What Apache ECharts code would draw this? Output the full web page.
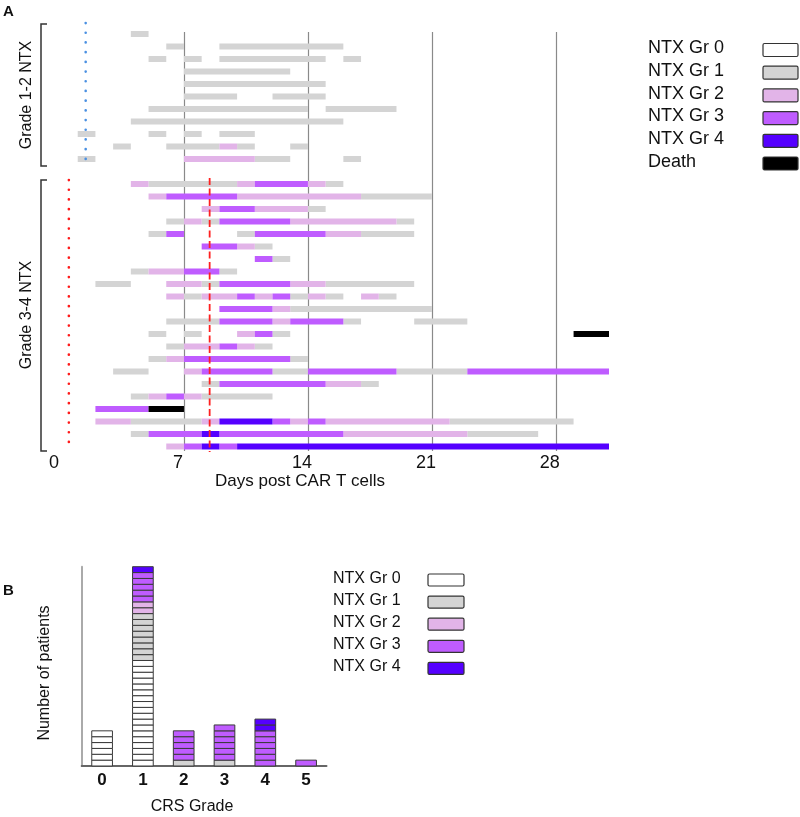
<!DOCTYPE html>
<html><head><meta charset="utf-8">
<script src="https://cdn.jsdelivr.net/npm/echarts@6/dist/echarts.min.js"></script>
<style>html,body{margin:0;padding:0;background:#fff}#c{width:800px;height:817px}</style>
</head><body><div id="c"></div>
<script>
// ---------- Panel A data ----------
const dayTicks = [0, 7, 14, 21, 28];
const gradeNames = ['NTX Gr 0', 'NTX Gr 1', 'NTX Gr 2', 'NTX Gr 3', 'NTX Gr 4', 'Death'];
// each row: list of [startDay, endDay, grade] (grade 5 = death)
const grade12Rows = [
  [[4,5,1]],
  [[6,7,1],[9,16,1]],
  [[5,6,1],[7,8,1],[9,15,1],[16,17,1]],
  [[7,13,1]],
  [[7,15,1]],
  [[7,10,1],[12,15,1]],
  [[5,14,1],[15,19,1]],
  [[4,16,1]],
  [[1,2,1],[5,6,1],[7,8,1],[9,11,1]],
  [[3,4,1],[6,9,1],[9,10,2],[10,11,1],[13,14,1]],
  [[1,2,1],[7,11,2],[11,13,1],[16,17,1]]
];
const grade34Rows = [
  [[4,5,2],[5,10,1],[10,11,2],[11,14,3],[14,15,2],[15,16,1]],
  [[5,6,2],[6,10,3],[10,17,2],[17,21,1]],
  [[8,9,2],[9,11,3],[11,14,2],[14,15,1]],
  [[6,7,1],[7,8,2],[8,9,1],[9,13,3],[13,19,2],[19,20,1]],
  [[5,6,1],[6,7,3],[10,11,1],[11,15,3],[15,17,2],[17,20,1]],
  [[8,10,3],[10,11,2],[11,12,1]],
  [[11,12,3],[12,13,1]],
  [[4,5,1],[5,7,2],[7,9,3],[9,10,1]],
  [[2,4,1],[6,8,2],[8,9,1],[9,13,3],[13,15,2],[15,20,1]],
  [[6,7,2],[7,8,1],[8,10,2],[10,11,3],[11,12,2],[12,13,3],[13,14,1],[14,15,2],[15,16,1],[17,18,2],[18,19,1]],
  [[9,12,3],[12,13,2],[13,21,1]],
  [[6,9,1],[9,12,3],[12,13,2],[13,16,3],[16,17,1],[20,23,1]],
  [[5,6,1],[7,8,1],[10,11,2],[11,12,3],[12,13,1],[29,31,5]],
  [[6,7,1],[7,9,2],[9,10,3],[10,11,2],[11,12,1]],
  [[5,6,1],[6,7,2],[7,13,3],[13,14,1]],
  [[3,5,1],[7,8,2],[8,12,3],[12,14,1],[14,19,3],[19,23,1],[23,31,3]],
  [[8,9,1],[9,15,3],[15,17,2],[17,18,1]],
  [[4,5,1],[5,6,2],[6,7,3],[7,8,2],[8,12,1]],
  [[2,5,3],[5,7,5]],
  [[2,4,2],[4,8,1],[8,9,2],[9,12,4],[12,13,3],[13,14,2],[14,15,3],[15,22,2],[22,29,1]],
  [[4,5,1],[5,8,3],[8,9,4],[9,16,3],[16,23,2],[23,27,1]],
  [[6,7,2],[7,8,3],[8,9,4],[9,10,3],[10,31,4]]
];
// reference lines: [day, fromRow, toRow]
const blueDotLine = [1.45, -0.88, 10.64];
const redDotLine = [0.5, 11.68, 33.2];
const redDashLine = [8.45, 11.52, 33.44];

// ---------- Panel B data ----------
const crsGrades = ['0', '1', '2', '3', '4', '5'];
const crsNtx0 = [6, 18, 0, 0, 0, 0];
const crsNtx1 = [0, 8, 1, 1, 0, 0];
const crsNtx2 = [0, 2, 0, 0, 0, 0];
const crsNtx3 = [0, 5, 5, 6, 6, 1];
const crsNtx4 = [0, 1, 0, 0, 2, 0];

// ---------- styles ----------
const FONT = '"Liberation Sans", Arial, sans-serif';
const gradeColors = ['#ffffff', '#d4d4d4', '#e2b4e8', '#bf5cff', '#5500ff', '#000000'];
const ROW_GAP = 12; // grade 3-4 rows start after one empty row

const segData = gradeNames.map(() => []);
grade12Rows.forEach((row, i) => row.forEach(s => segData[s[2]].push([i, s[0], s[1]])));
grade34Rows.forEach((row, i) => row.forEach(s => segData[s[2]].push([ROW_GAP + i, s[0], s[1]])));

function segRender(color) {
  return function (params, api) {
    const y = api.value(0), s = api.value(1), e = api.value(2);
    const p0 = api.coord([s, y]), p1 = api.coord([e, y]);
    const h = 6;
    return { type: 'rect', shape: { x: p0[0], y: p0[1] - h / 2, width: p1[0] - p0[0], height: h }, style: { fill: color } };
  };
}
function vlineRender(color, dash, width) {
  return function (params, api) {
    const d = api.value(0);
    const a = api.coord([d, api.value(1)]), b = api.coord([d, api.value(2)]);
    return { type: 'line', shape: { x1: a[0], y1: a[1], x2: b[0], y2: b[1] },
      style: { stroke: color, lineWidth: width, lineDash: dash, lineCap: dash[0] < 3 ? 'round' : 'butt' } };
  };
}

const series = [];
segData.forEach((d, g) => {
  if (!d.length) return;
  series.push({ type: 'custom', name: gradeNames[g], xAxisIndex: 0, yAxisIndex: 0,
    renderItem: segRender(gradeColors[g]), encode: { x: [1, 2], y: 0 }, data: d, z: 2 });
});
series.push({ type: 'custom', xAxisIndex: 0, yAxisIndex: 0, clip: false, z: 3,
  renderItem: vlineRender('#4a90e2', [0.1, 9.6], 2.6), encode: { x: 0, y: [1, 2] }, data: [blueDotLine] });
series.push({ type: 'custom', xAxisIndex: 0, yAxisIndex: 0, clip: false, z: 3,
  renderItem: vlineRender('#ff1a1a', [0.1, 9.6], 2.6), encode: { x: 0, y: [1, 2] }, data: [redDotLine] });
series.push({ type: 'custom', xAxisIndex: 0, yAxisIndex: 0, clip: false, z: 3,
  renderItem: vlineRender('#ff2020', [7, 3.5], 1.8), encode: { x: 0, y: [1, 2] }, data: [redDashLine] });

// panel B stacked patient boxes
const crsStacks = [crsNtx0, crsNtx1, crsNtx2, crsNtx3, crsNtx4];
const base = crsGrades.map(() => 0);
crsStacks.forEach((arr, g) => {
  const data = arr.map((n, i) => { const item = [i, base[i], n]; base[i] += n; return item; });
  series.push({ type: 'custom', name: gradeNames[g] + ' ', xAxisIndex: 1, yAxisIndex: 1, z: 2,
    encode: { x: 0, y: 1 }, data: data,
    renderItem: function (params, api) {
      const c = api.value(0), b0 = api.value(1), n = api.value(2);
      const w = api.size([1, 0])[0] * 0.507;
      const children = [];
      for (let k = 0; k < n; k++) {
        const p0 = api.coord([c, b0 + k]), p1 = api.coord([c, b0 + k + 1]);
        children.push({ type: 'rect', shape: { x: p0[0] - w / 2, y: p1[1], width: w, height: p0[1] - p1[1] },
          style: { fill: gradeColors[g], stroke: '#3a3a3a', lineWidth: 1 } });
      }
      return { type: 'group', children: children };
    } });
});

// legends drawn as graphics
const graphics = [];
function legendBlock(x, yStart, step, boxX, boxW, boxH, count, fontSize) {
  for (let g = 0; g < count; g++) {
    const yc = yStart + g * step;
    graphics.push({ type: 'text', left: x, top: yc - fontSize * 0.6,
      style: { text: gradeNames[g], font: fontSize + 'px ' + FONT, fill: '#111' } });
    graphics.push({ type: 'rect', shape: { x: boxX, y: yc - boxH / 2, width: boxW, height: boxH, r: 1.5 },
      style: { fill: gradeColors[g], stroke: '#333', lineWidth: 1.2 } });
  }
}
legendBlock(648, 50, 22.7, 763, 35, 13, 6, 18);
legendBlock(333, 580, 22.1, 428, 36, 12, 5, 16);

// brackets
function bracket(x, y0, y1) {
  graphics.push({ type: 'polyline', shape: { points: [[x + 6, y0], [x, y0], [x, y1], [x + 6, y1]] },
    style: { stroke: '#333', lineWidth: 1.5, fill: null } });
}
bracket(41, 24, 166);
bracket(41, 180, 451);
graphics.push({ type: 'text', x: 27, y: 95, rotation: Math.PI / 2,
  style: { text: 'Grade 1-2 NTX', font: '16px ' + FONT, fill: '#111', align: 'center', verticalAlign: 'middle' } });
graphics.push({ type: 'text', x: 27, y: 315, rotation: Math.PI / 2,
  style: { text: 'Grade 3-4 NTX', font: '16px ' + FONT, fill: '#111', align: 'center', verticalAlign: 'middle' } });
graphics.push({ type: 'text', x: 300, y: 481,
  style: { text: 'Days post CAR T cells', font: '17px ' + FONT, fill: '#111', align: 'center', verticalAlign: 'middle' } });
graphics.push({ type: 'text', x: 45, y: 673, rotation: Math.PI / 2,
  style: { text: 'Number of patients', font: '16px ' + FONT, fill: '#111', align: 'center', verticalAlign: 'middle' } });
graphics.push({ type: 'text', x: 192, y: 807,
  style: { text: 'CRS Grade', font: '16px ' + FONT, fill: '#111', align: 'center', verticalAlign: 'middle' } });
graphics.push({ type: 'text', x: 3, y: 4, style: { text: 'A', font: 'bold 15px ' + FONT, fill: '#111' } });
graphics.push({ type: 'text', x: 3, y: 583, style: { text: 'B', font: 'bold 15px ' + FONT, fill: '#111' } });

const chart = echarts.init(document.getElementById('c'), null, { renderer: 'canvas' });
chart.setOption({
  animation: false,
  backgroundColor: '#fff',
  grid: [
    { left: 60, top: 32, width: 549, height: 419 },
    { left: 81.7, top: 566.7, width: 244.8, height: 199.3 }
  ],
  xAxis: [
    { type: 'value', gridIndex: 0, min: 0, max: 31, interval: 7,
      axisLine: { show: false }, axisTick: { show: false },
      axisLabel: { margin: 3, fontSize: 18, fontFamily: FONT, color: '#111', showMaxLabel: false,
        padding: [0, 12, 0, 0],
        formatter: v => (dayTicks.indexOf(v) >= 0 ? String(v) : '') },
      splitLine: { show: true, showMinLine: false, showMaxLine: false, lineStyle: { color: '#8a8a8a', width: 1.2 } } },
    { type: 'category', gridIndex: 1, data: crsGrades,
      axisLine: { lineStyle: { color: '#666', width: 2 } }, axisTick: { show: false },
      axisLabel: { margin: 6, fontSize: 17, fontWeight: 'bold', fontFamily: FONT, color: '#111' } }
  ],
  yAxis: [
    { type: 'value', gridIndex: 0, inverse: true, min: -0.16, max: 33.36, show: false },
    { type: 'value', gridIndex: 1, min: 0, max: 34,
      axisLine: { show: true, lineStyle: { color: '#aaa', width: 2 } }, axisTick: { show: false },
      axisLabel: { show: false }, splitLine: { show: false } }
  ],
  graphic: graphics,
  series: series
});
</script>
</body></html>
